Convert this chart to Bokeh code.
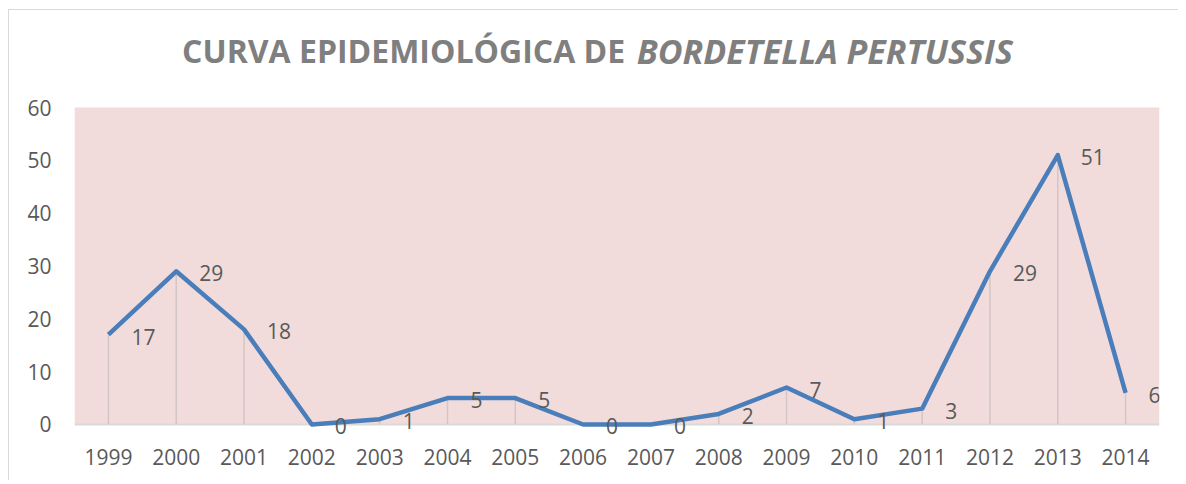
from bokeh.plotting import figure
from bokeh.models import (Label, LabelSet, FixedTicker, Range1d,
                          ColumnDataSource, BoxAnnotation, Span)
from bokeh.core.properties import value
from bokeh.embed import file_html
from bokeh.resources import INLINE

years = ["1999", "2000", "2001", "2002", "2003", "2004", "2005", "2006",
         "2007", "2008", "2009", "2010", "2011", "2012", "2013", "2014"]
cases = [17, 29, 18, 0, 1, 5, 5, 0, 0, 2, 7, 1, 3, 29, 51, 6]
y_ticks = [0, 10, 20, 30, 40, 50, 60]
title_regular = "CURVA EPIDEMIOLÓGICA DE"
title_italic = "BORDETELLA PERTUSSIS"

Y_MAX = 60
xs = [i + 0.5 for i in range(len(years))]
src = ColumnDataSource(dict(x=xs, y=cases, y0=[0] * len(cases),
                            lbl=[str(c) for c in cases]))

FONT = "Open Sans"
# frame extended upward to hold the title and slightly below 0 for the "0" labels
p = figure(width=1170, frame_height=428, output_backend="svg",
           toolbar_location=None,
           x_range=Range1d(0, len(years)), y_range=Range1d(-2.65, 78.36),
           min_border_left=65, min_border_right=20, min_border_top=0,
           min_border_bottom=42)
p.styles = {"margin-left": "8px", "margin-top": "9px",
            "border-left": "1.5px solid #d9d9d9",
            "border-top": "1.5px solid #d9d9d9"}
p.background_fill_color = "white"
p.border_fill_color = "white"
p.outline_line_color = None
p.xgrid.grid_line_color = None
p.ygrid.grid_line_color = None

# plot-area fill (0..60) and baseline at 0
p.add_layout(BoxAnnotation(bottom=0, top=Y_MAX, left=0, right=len(years),
                           fill_color="#f2dcdb", fill_alpha=1,
                           line_color=None, level="underlay"))
p.add_layout(Span(location=0, dimension="width", line_color="#d9d9d9",
                  line_width=2, level="underlay"))

# axes
p.xaxis.ticker = FixedTicker(ticks=xs)
p.xaxis.major_label_overrides = {x: y for x, y in zip(xs, years)}
p.xaxis.axis_line_color = None
p.xaxis.major_tick_line_color = None
p.xaxis.minor_tick_line_color = None
p.xaxis.major_label_standoff = 4
p.yaxis.ticker = FixedTicker(ticks=y_ticks)
p.yaxis.axis_line_color = None
p.yaxis.major_tick_line_color = None
p.yaxis.minor_tick_line_color = None
p.yaxis.major_label_standoff = 17
for ax in (p.xaxis, p.yaxis):
    ax.major_label_text_font = FONT
    ax.major_label_text_font_size = "21px"
    ax.major_label_text_color = "#595959"

# drop lines
p.segment(x0="x", y0="y0", x1="x", y1="y", source=src,
          line_color="#d3c6c6", line_width=1.5)
# series line
p.line(x="x", y="y", source=src, line_color="#4a7ebb", line_width=4.5,
       line_join="round")
# data labels
p.add_layout(LabelSet(x="x", y="y", text="lbl", source=src,
                      x_offset=23, y_offset=-2,
                      text_align="left", text_baseline="middle",
                      text_font=value(FONT), text_font_size=value("21px"),
                      text_color=value("#595959")))

# title (mixed regular / italic)
p.add_layout(Label(x=8.12, y=70.7, text=title_regular, text_align="right",
                   text_baseline="alphabetic", text_font=FONT,
                   text_font_size="32px", text_font_style="bold",
                   text_color="#7f7f7f"))
p.add_layout(Label(x=8.29, y=70.7, text=title_italic, text_align="left",
                   text_baseline="alphabetic", text_font=FONT,
                   text_font_size="34px", text_font_style="bold italic",
                   text_color="#7f7f7f"))

open("out.html", "w").write(file_html(p, INLINE))
